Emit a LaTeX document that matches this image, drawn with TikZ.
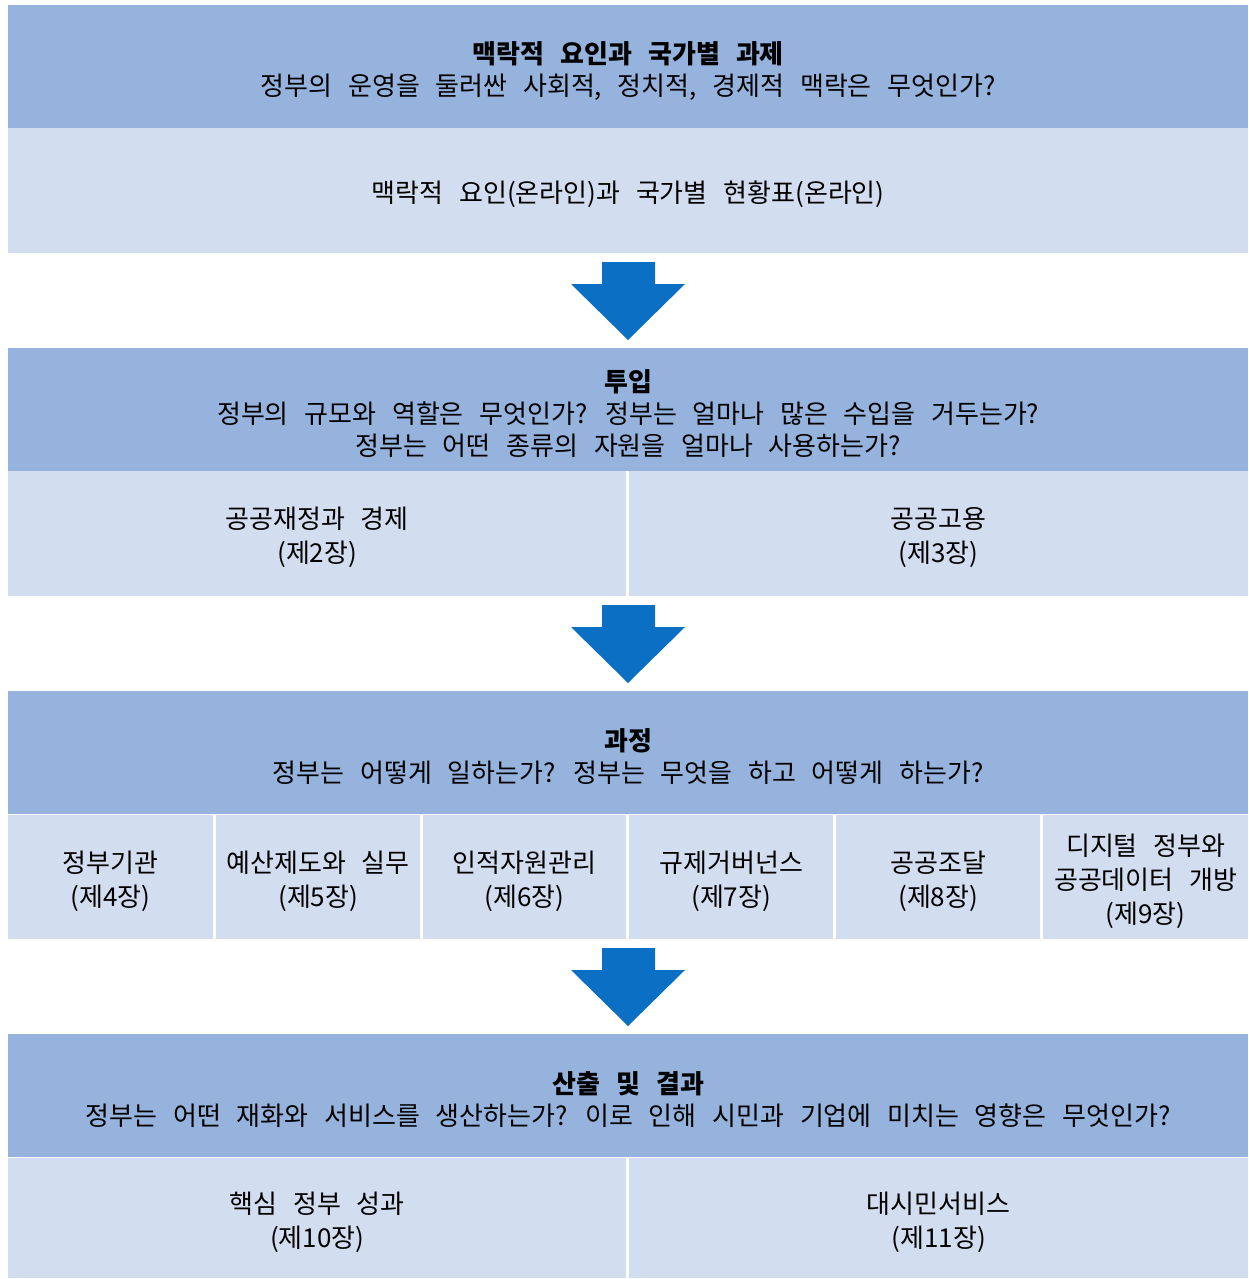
\documentclass[tikz,border=0pt]{standalone}
\usepackage{fontspec}
\setmainfont[WordSpace=2.7]{Noto Sans CJK KR}
\definecolor{hdrblue}{HTML}{95B3DD}
\definecolor{bodyblue}{HTML}{D2DDF0}
\definecolor{arrowblue}{HTML}{0B6FC3}
\begin{document}
\begin{tikzpicture}[x=1pt,y=-1pt,
  hdr/.style={fill=hdrblue, anchor=north west, minimum width=1240pt, minimum height=123pt, inner sep=0pt},
  cell/.style={fill=bodyblue, anchor=north west, inner sep=0pt},
  htext/.style={align=center, inner sep=0pt, yshift=-4pt, font=\fontsize{26}{32}\selectfont, text=black},
  ctext/.style={align=center, inner sep=0pt, yshift=-4pt, font=\fontsize{26}{34}\selectfont, text=black},
  bigarrow/.style={fill=arrowblue}]
\useasboundingbox (0,0) rectangle (1248,1279);
% Section 1
\node[hdr] (h1) at (8,5) {};
\node[htext] (t1) at (h1.center) {\textbf{맥락적 요인과 국가별 과제}\\정부의 운영을 둘러싼 사회적, 정치적, 경제적 맥락은 무엇인가?};
\node[cell, minimum width=1240pt, minimum height=125pt] (b1) at (8,128) {};
\node[ctext] (tb1) at (b1.center) {맥락적 요인(온라인)과 국가별 현황표(온라인)};
% Section 2
\node[hdr] (h2) at (8,348) {};
\node[htext] (t2) at (h2.center) {\textbf{투입}\\정부의 규모와 역할은 무엇인가? 정부는 얼마나 많은 수입을 거두는가?\\정부는 어떤 종류의 자원을 얼마나 사용하는가?};
\node[cell, minimum width=618pt, minimum height=125pt] (b2a) at (8,471) {};
\node[ctext] at (b2a.center) {공공재정과 경제\\(제2장)};
\node[cell, minimum width=619pt, minimum height=125pt] (b2b) at (629,471) {};
\node[ctext] at (b2b.center) {공공고용\\(제3장)};
% Section 3
\node[hdr] (h3) at (8,691) {};
\node[htext] (t3) at (h3.center) {\textbf{과정}\\정부는 어떻게 일하는가? 정부는 무엇을 하고 어떻게 하는가?};
\node[cell, minimum width=205pt, minimum height=124pt] (c4) at (8,815) {};
\node[ctext] at (c4.center) {정부기관\\(제4장)};
\node[cell, minimum width=204pt, minimum height=124pt] (c5) at (216,815) {};
\node[ctext] at (c5.center) {예산제도와 실무\\(제5장)};
\node[cell, minimum width=203pt, minimum height=124pt] (c6) at (423,815) {};
\node[ctext] at (c6.center) {인적자원관리\\(제6장)};
\node[cell, minimum width=204pt, minimum height=124pt] (c7) at (629,815) {};
\node[ctext] at (c7.center) {규제거버넌스\\(제7장)};
\node[cell, minimum width=204pt, minimum height=124pt] (c8) at (836,815) {};
\node[ctext] at (c8.center) {공공조달\\(제8장)};
\node[cell, minimum width=205pt, minimum height=124pt] (c9) at (1043,815) {};
\node[ctext] at (c9.center) {디지털 정부와\\공공데이터 개방\\(제9장)};
% Section 4
\node[hdr] (h4) at (8,1034) {};
\node[htext] (t4) at (h4.center) {\textbf{산출 및 결과}\\정부는 어떤 재화와 서비스를 생산하는가? 이로 인해 시민과 기업에 미치는 영향은 무엇인가?};
\node[cell, minimum width=618pt, minimum height=120pt] (b4a) at (8,1158) {};
\node[ctext] at (b4a.center) {핵심 정부 성과\\(제10장)};
\node[cell, minimum width=619pt, minimum height=120pt] (b4b) at (629,1158) {};
\node[ctext] at (b4b.center) {대시민서비스\\(제11장)};
% Arrows
\foreach \top in {262,605,948}{
  \fill[bigarrow] (602,\top) -- (655,\top) -- (655,\top+22) -- (685,\top+22) -- (628,\top+78) -- (571,\top+22) -- (602,\top+22) -- cycle;
}
\end{tikzpicture}
\end{document}
